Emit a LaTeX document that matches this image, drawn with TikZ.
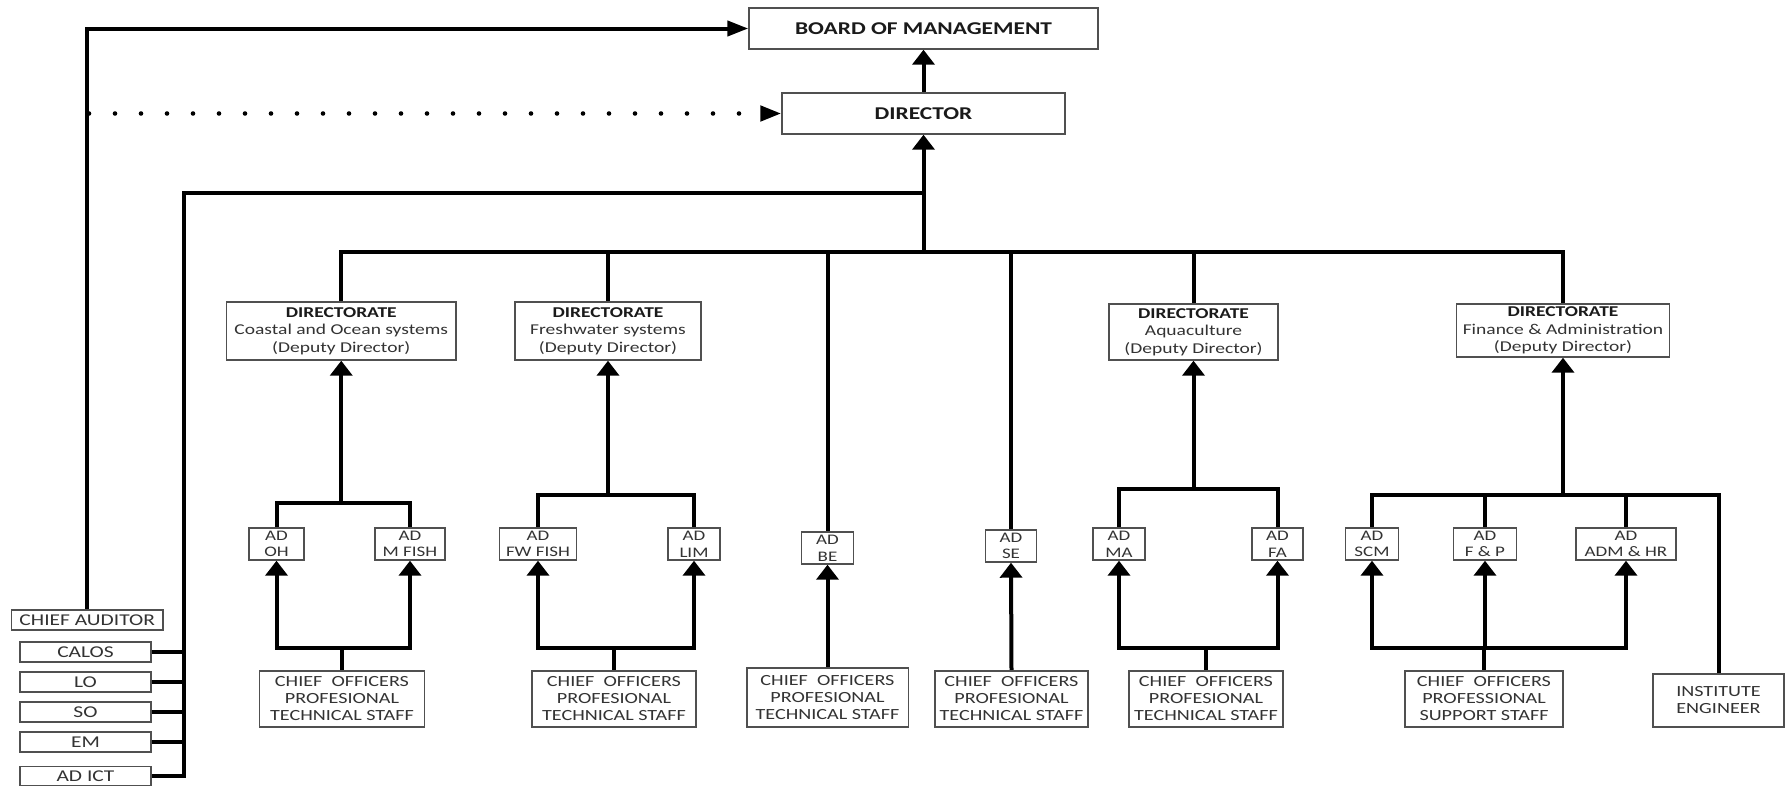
\documentclass[tikz,border=0pt]{standalone}
\usepackage{fontspec}
\setmainfont{Carlito}[FakeStretch=1.3]
\usetikzlibrary{arrows.meta,backgrounds}

\definecolor{boxline}{HTML}{505050}
\definecolor{txt}{HTML}{333333}
\definecolor{txtb}{HTML}{1A1A1A}

\newcommand\hdfont{\fontsize{18}{21}\selectfont\bfseries}
\newcommand\dirfont{\fontsize{15}{17.5}\selectfont}
\newcommand\adfont{\fontsize{14.6}{16.7}\selectfont}
\newcommand\stafffont{\fontsize{15.5}{17}\selectfont}
\newcommand\sidefont{\fontsize{16.5}{18}\selectfont}
\newcommand\dirhead{\textcolor{txtb}{\bfseries DIRECTORATE}}

\tikzset{
  orgbox/.style={draw=boxline, line width=1.4pt, fill=white, inner sep=0pt,
                 align=center, text=txt},
  sz/.style 2 args={minimum width=#1, minimum height=#2},
  conn/.style={line width=4pt, line cap=rect, draw=black},
  upar/.style={-{Triangle[length=15pt,width=22pt]}},
  rtar/.style={-{Triangle[length=21pt,width=15pt]}},
  dots/.style={line width=4.6pt, line cap=round, dash pattern=on 0pt off 26pt, draw=black},
}

\begin{document}
\begin{tikzpicture}[x=1pt,y=-1pt]
\useasboundingbox (0,0) rectangle (1786,787);

% top level
\node[orgbox, sz={349pt}{41pt}, font=\hdfont, text=txtb] (board) at (923.5,28.5) {BOARD OF MANAGEMENT};
\node[orgbox, sz={283pt}{41pt}, font=\hdfont, text=txtb] (director) at (923.5,113.5) {DIRECTOR};

% directorates
\node[orgbox, sz={229.5pt}{58pt}, font=\dirfont] (coastal) at (341.25,331) {\dirhead\\Coastal and Ocean systems\\(Deputy Director)};
\node[orgbox, sz={186pt}{58pt}, font=\dirfont] (fresh) at (608,331) {\dirhead\\Freshwater systems\\(Deputy Director)};
\node[orgbox, sz={169pt}{56pt}, font=\dirfont] (aqua) at (1193.5,332) {\dirhead\\Aquaculture\\(Deputy Director)};
\node[orgbox, sz={213pt}{53pt}, font=\dirfont] (finance) at (1563,330.5) {\dirhead\\Finance \& Administration\\(Deputy Director)};

% assistant directors
\node[orgbox, sz={55pt}{32pt}, font=\adfont] (adOH) at (276.5,544) {AD\\OH};
\node[orgbox, sz={70pt}{32pt}, font=\adfont] (adMF) at (410,544) {AD\\M FISH};
\node[orgbox, sz={76.5pt}{32pt}, font=\adfont] (adFW) at (538,544) {AD\\FW FISH};
\node[orgbox, sz={52pt}{32pt}, font=\adfont] (adLIM) at (694,544) {AD\\LIM};
\node[orgbox, sz={52.5pt}{32pt}, font=\adfont] (adBE) at (827.5,548) {AD\\BE};
\node[orgbox, sz={51pt}{32pt}, font=\adfont] (adSE) at (1011,546) {AD\\SE};
\node[orgbox, sz={52pt}{32pt}, font=\adfont] (adMA) at (1119,544) {AD\\MA};
\node[orgbox, sz={51pt}{32pt}, font=\adfont] (adFA) at (1277.5,544) {AD\\FA};
\node[orgbox, sz={53.5pt}{32pt}, font=\adfont] (adSCM) at (1372,544) {AD\\SCM};
\node[orgbox, sz={63.5pt}{32pt}, font=\adfont] (adFP) at (1485,544) {AD\\F \& P};
\node[orgbox, sz={100pt}{32pt}, font=\adfont] (adAH) at (1626,544) {AD\\ADM \& HR};

% staff
\node[orgbox, sz={164.5pt}{56pt}, font=\stafffont] (coCO) at (342,699) {CHIEF~~OFFICERS\\PROFESIONAL\\TECHNICAL STAFF};
\node[orgbox, sz={164pt}{56pt}, font=\stafffont] (fwCO) at (614,699) {CHIEF~~OFFICERS\\PROFESIONAL\\TECHNICAL STAFF};
\node[orgbox, sz={161.4pt}{59pt}, font=\stafffont] (beCO) at (827.5,697.5) {CHIEF~~OFFICERS\\PROFESIONAL\\TECHNICAL STAFF};
\node[orgbox, sz={153pt}{56pt}, font=\stafffont] (seCO) at (1011.5,699) {CHIEF~~OFFICERS\\PROFESIONAL\\TECHNICAL STAFF};
\node[orgbox, sz={154pt}{56pt}, font=\stafffont] (aqCO) at (1206,699) {CHIEF~~OFFICERS\\PROFESIONAL\\TECHNICAL STAFF};
\node[orgbox, sz={158pt}{56pt}, font=\stafffont] (supp) at (1484,699) {CHIEF~~OFFICERS\\PROFESSIONAL\\SUPPORT STAFF};
\node[orgbox, sz={131pt}{53pt}, font=\stafffont] (eng) at (1718.5,700.5) {INSTITUTE\\ENGINEER};

% offices on the left
\node[orgbox, sz={151.5pt}{20pt}, font=\sidefont] (auditor) at (87.25,620) {CHIEF AUDITOR};
\node[orgbox, sz={131pt}{20pt}, font=\sidefont] (calos) at (85.5,652) {CALOS};
\node[orgbox, sz={131pt}{20pt}, font=\sidefont] (lo) at (85.5,682) {LO};
\node[orgbox, sz={131pt}{20pt}, font=\sidefont] (so) at (85.5,712) {SO};
\node[orgbox, sz={131pt}{20pt}, font=\sidefont] (em) at (85.5,742) {EM};
\node[orgbox, sz={131pt}{19pt}, font=\sidefont] (adict) at (85.5,776) {AD ICT};

% junction points
\coordinate (mb) at (923.5,252);
\coordinate (lbtop) at (184,193);
\coordinate (dst) at (89,113.5);
\coordinate (cT) at (341.25,503);
\coordinate (fT) at (608,495);
\coordinate (aT) at (1193.5,489);
\coordinate (nT) at (1563,495);
\coordinate (cB) at (342,648);
\coordinate (fB) at (614,648);
\coordinate (aB) at (1206,648);
\coordinate (nB) at (1484,648);

\begin{scope}[on background layer]
  % reporting lines at the top
  \draw[conn, upar] (director.north) -- (board.south);
  \draw[conn, rtar] (auditor.north) |- (board.west);
  \draw[dots, rtar] (dst) -- (director.west);
  \draw[conn, upar] (mb) -- (director.south);

  % offices bus
  \draw[conn] (adict.east) -| (lbtop) -- (lbtop -| director.south);
  \foreach \n in {calos,lo,so,em}
    \draw[conn] (\n.east) -- (\n.east -| lbtop);

  % main bus
  \draw[conn] (coastal.north) |- (mb) -| (finance.north);
  \draw[conn] (fresh.north) -- (fresh.north |- mb);
  \draw[conn] (adBE.north) -- (adBE.north |- mb);
  \draw[conn] (adSE.north) -- (adSE.north |- mb);
  \draw[conn] (aqua.north) -- (aqua.north |- mb);

  % coastal and ocean systems
  \draw[conn] (adOH.north) |- (cT) -| (adMF.north);
  \draw[conn, upar] (cT) -- (coastal.south);
  \draw[conn] (adOH.south |- cB) -- (adMF.south |- cB);
  \draw[conn, upar] (adOH.south |- cB) -- (adOH.south);
  \draw[conn, upar] (adMF.south |- cB) -- (adMF.south);
  \draw[conn] (coCO.north) -- (cB);

  % freshwater systems
  \draw[conn] (adFW.north) |- (fT) -| (adLIM.north);
  \draw[conn, upar] (fT) -- (fresh.south);
  \draw[conn] (adFW.south |- fB) -- (adLIM.south |- fB);
  \draw[conn, upar] (adFW.south |- fB) -- (adFW.south);
  \draw[conn, upar] (adLIM.south |- fB) -- (adLIM.south);
  \draw[conn] (fwCO.north) -- (fB);

  % BE and SE
  \draw[conn, upar] (beCO.north) -- (adBE.south);
  \draw[conn, upar] (seCO.north) -- (adSE.south);

  % aquaculture
  \draw[conn] (adMA.north) |- (aT) -| (adFA.north);
  \draw[conn, upar] (aT) -- (aqua.south);
  \draw[conn] (adMA.south |- aB) -- (adFA.south |- aB);
  \draw[conn, upar] (adMA.south |- aB) -- (adMA.south);
  \draw[conn, upar] (adFA.south |- aB) -- (adFA.south);
  \draw[conn] (aqCO.north) -- (aB);

  % finance and administration
  \draw[conn] (adSCM.north) |- (nT) -| (eng.north);
  \draw[conn] (adFP.north) -- (adFP.north |- nT);
  \draw[conn] (adAH.north) -- (adAH.north |- nT);
  \draw[conn, upar] (nT) -- (finance.south);
  \draw[conn] (adSCM.south |- nB) -- (adAH.south |- nB);
  \draw[conn, upar] (adSCM.south |- nB) -- (adSCM.south);
  \draw[conn, upar] (adFP.south |- nB) -- (adFP.south);
  \draw[conn, upar] (adAH.south |- nB) -- (adAH.south);
  \draw[conn] (supp.north) -- (nB);
\end{scope}
\end{tikzpicture}
\end{document}
